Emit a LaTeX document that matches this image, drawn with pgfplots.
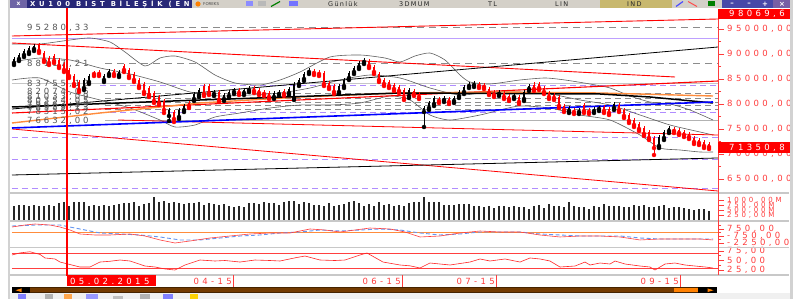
\documentclass[border=0pt]{standalone}
\usepackage{pgfplots}
\pgfplotsset{compat=1.18}
\usepackage{pgfplotstable}
\usepackage{fontspec}
\setmainfont{DejaVu Sans}
\newfontfamily\axff[LetterSpace=40]{DejaVu Sans}
\newfontfamily\lvff[LetterSpace=35]{DejaVu Sans}
\newfontfamily\ttlff[LetterSpace=55]{DejaVu Sans}
\newfontfamily\tbff[LetterSpace=20]{DejaVu Sans}
\newcommand\af{\axff\fontsize{8.5}{8.5}\selectfont}
\newcommand\vf{\axff\fontsize{7}{7}\selectfont}
\newcommand\lf{\lvff\fontsize{8.5}{8.5}\selectfont}
\newcommand\tbf{\tbff\fontsize{6.5}{6.5}\selectfont}
\definecolor{cred}{RGB}{255,0,0}
\definecolor{lred}{RGB}{255,60,60}
\definecolor{gdash}{RGB}{140,140,140}
\definecolor{pdash}{RGB}{176,140,255}
\definecolor{psol}{RGB}{190,160,255}
\definecolor{bband}{RGB}{95,95,95}
\definecolor{orng}{RGB}{255,140,60}
\definecolor{navy}{RGB}{40,40,120}
\definecolor{xbox}{RGB}{110,100,165}
\definecolor{xbtn}{RGB}{120,95,165}
\definecolor{tbgrey}{RGB}{212,208,200}
\definecolor{khaki}{RGB}{200,184,110}
\definecolor{btnblue}{RGB}{72,72,168}
\definecolor{brwn}{RGB}{115,58,0}
\definecolor{sigblue}{RGB}{100,150,240}
\definecolor{sep}{RGB}{200,200,200}
\definecolor{lvgrey}{RGB}{85,85,85}

\pgfplotstableread{
x o h l c
14 88200 89400 87800 89000
19 89000 90200 88600 89800
24 89800 91000 89400 90600
29 90400 91600 90000 91200
34 91000 92000 90600 91600
84 83200 85200 82800 84800
89 84400 86000 84000 85600
104 84800 86000 84400 85600
109 86000 87000 85600 86600
119 85800 86800 85400 86400
169 77600 79200 76600 78800
179 77400 79200 77000 78800
184 78800 80000 78400 79600
194 81000 82400 80600 82000
199 81800 83200 81400 82800
214 82000 82800 81600 82400
224 81000 82200 80600 81800
229 81600 82800 81200 82400
234 82400 83200 82000 82800
244 82200 83200 81800 82800
249 82800 83600 82400 83200
274 81400 82600 81000 82200
279 82000 82800 81600 82400
289 82200 83400 81800 83000
294 81200 84400 80800 84000
299 84000 85200 83600 84800
304 85000 86400 84600 86000
309 86400 87200 86000 86800
339 82400 84000 82000 83600
344 83600 85200 83200 84800
349 85200 86600 84800 86200
354 86400 87600 86000 87200
359 87400 88600 87000 88200
364 88400 89200 88000 88800
409 81600 83200 81200 82800
424 78400 79600 75400 79200
429 79200 80600 78800 80200
434 80000 81600 79600 81200
444 80800 81600 80400 81200
454 80600 81600 80200 81200
459 81600 82800 81200 82400
464 82400 83800 82000 83400
469 83600 84400 83200 84000
474 83800 84600 83400 84200
499 82000 82800 81600 82400
514 81400 82200 81000 81800
524 81000 82800 80600 82400
529 83000 84000 82600 83600
569 78600 79600 78200 79200
579 78400 79200 78000 78800
594 78600 79400 78200 79000
599 79000 79600 78600 79200
614 79200 80400 78800 80000
659 71600 73800 71200 73400
664 73200 74800 72800 74400
669 74600 75600 74200 75200
}\upc

\pgfplotstableread{
x o h l c
39 91800 92200 90200 90600
44 90200 90600 88400 88800
49 89200 89600 87800 88200
54 89600 90000 88200 88600
59 88800 89200 87200 87600
64 88000 88400 86400 86800
69 86800 87200 85200 85600
74 85600 86000 83600 84000
79 84400 84800 82400 82800
94 86200 86600 85600 86000
99 86400 86800 85600 86000
114 86600 87000 85600 86000
124 87600 88000 86400 86800
129 86800 87200 85200 85600
134 86000 86400 84400 84800
139 84800 85200 83200 83600
144 84000 84400 82000 82400
149 83200 83600 81400 81800
154 82200 82600 80200 80600
159 81400 81800 79800 80200
164 80600 81000 78200 78800
174 78400 78800 76400 77000
189 80200 80600 79200 79600
204 83600 84000 81600 82000
209 83600 84000 81800 82200
219 82400 82800 80400 80800
239 82800 83200 81800 82200
254 83200 83600 82200 82600
259 82800 83200 81800 82200
264 82400 82800 81600 82000
269 82200 82600 81000 81400
284 82600 83000 81600 82000
314 86600 87000 85800 86200
319 86400 86800 85600 86000
324 86200 86600 83600 84000
329 84200 84600 83000 83400
334 83600 84000 82000 82400
369 88600 89000 87200 87600
374 87400 87800 86000 86400
379 86000 86400 84400 84800
384 84800 85200 83600 84000
389 84400 84800 83200 83600
394 83800 84200 82600 83000
399 83400 83800 82200 82600
404 82800 83200 80800 81200
414 82600 83000 81600 82000
419 82000 82400 81000 81400
439 81000 81400 80200 80600
449 81000 81400 80000 80400
479 84000 84400 83200 83600
484 83800 84200 83000 83400
489 83000 83400 81800 82200
494 82400 82800 81400 81800
504 82200 82600 81000 81400
509 81600 82000 80600 81000
519 81400 81800 80000 80400
534 83800 84400 82600 83000
539 84000 84400 82800 83200
544 83200 83600 82000 82400
549 82200 82600 81000 81400
554 81800 82200 80800 81200
559 81400 81800 79200 79600
564 79600 80000 78400 78800
574 78800 79200 78000 78400
584 79800 80200 78200 78600
589 78800 79200 78000 78400
604 79400 79800 78200 78600
609 79000 79400 77800 78200
619 79800 80200 78400 78800
624 78800 79200 77200 77600
629 77800 78200 76200 76600
634 76800 77200 75400 75800
639 76000 76400 74600 75000
644 75200 75600 73600 74000
649 74400 74800 72800 73200
654 73200 73600 69800 71200
674 75000 75400 74200 74600
679 74800 75200 73800 74200
684 74400 74800 73400 73800
689 74000 74400 73000 73400
694 73200 73600 72000 72400
699 72800 73200 71800 72200
704 72400 72800 71200 71600
709 72000 72400 71000 71400
}\dnc

\pgfplotstableread{
x v
14 700
19 780
24 780
29 690
34 760
39 720
44 690
49 760
54 690
59 850
64 900
69 700
74 880
79 900
84 920
89 700
94 760
99 720
104 760
109 690
114 760
119 800
124 830
129 870
134 900
139 700
144 800
149 870
154 1150
159 900
164 950
169 870
174 900
179 850
184 800
189 850
194 830
199 880
204 760
209 860
214 800
219 780
224 800
229 700
234 640
239 700
244 650
249 830
254 860
259 800
264 900
269 850
274 830
279 760
284 900
289 930
294 950
299 800
304 900
309 830
314 760
319 780
324 700
329 850
334 700
339 780
344 820
349 880
354 950
359 870
364 720
369 820
374 700
379 880
384 760
389 800
394 700
399 780
404 700
409 830
414 900
419 880
424 1150
429 920
434 880
439 880
444 760
449 780
454 760
459 800
464 820
469 820
474 720
479 720
484 680
489 720
494 620
499 720
504 720
509 650
514 720
519 680
524 650
529 580
534 720
539 760
544 620
549 820
554 700
559 700
564 640
569 880
574 720
579 680
584 640
589 560
594 720
599 640
604 820
609 720
614 700
619 720
624 680
629 640
634 760
639 700
644 740
649 680
654 640
659 700
664 740
669 600
674 680
679 640
684 600
689 560
694 520
699 560
704 580
709 480
}\vol

\pgfplotstableread{
x m
12 1180
25 1600
35 1820
50 1600
60 1180
70 535
80 -320
95 -535
110 -535
130 -320
145 -750
160 -1600
175 -2250
190 -1820
210 -1180
230 -750
250 -320
270 -107
290 -107
310 750
325 535
340 107
355 535
370 960
390 750
405 107
420 -960
440 -750
460 -107
480 320
500 107
520 107
540 -535
560 -960
580 -750
600 -750
620 -960
640 -1600
660 -1390
680 -1390
700 -1390
713 -1600
}\macd

\pgfplotstableread{
x s
12 1390
35 1600
60 1600
80 750
100 -107
120 -320
140 -535
160 -960
180 -1600
200 -1600
220 -1180
240 -750
260 -535
280 -107
300 107
320 535
340 320
360 535
380 750
400 535
420 -107
440 -535
460 -320
480 107
500 107
520 107
540 -320
560 -535
580 -750
600 -750
620 -750
640 -1180
660 -1390
680 -1390
700 -1390
713 -1390
}\sig

\pgfplotstableread{
x r
12 64.5
20 70
30 73
40 66
45 56.6
55 54
60 46
68 40.8
80 32.9
90 32.9
100 46
110 48
120 51.3
130 48.7
145 35.5
155 33
165 27.7
175 25
185 38.2
200 51.3
215 48.7
225 50
240 46
255 51.3
270 50
280 48.7
295 57
305 61.8
320 51.3
335 50
345 51.3
360 64.5
367 69.7
383 46
400 38.2
410 36
420 30.3
430 43.4
450 38.2
470 46
480 54
490 48.7
505 54
520 46
530 56.6
540 54
550 48.7
560 32.9
575 35.5
585 46
590 38.2
600 43.4
610 40.8
615 48.7
625 40.8
640 35.5
650 32.9
655 25
665 40.8
675 43.4
685 38.2
695 35.5
705 33
713 30.3
}\rsi

\pgfplotsset{panel/.style={anchor=south west, scale only axis, width=706pt,
  xmin=12, xmax=718, axis x line=none, axis y line*=right,
  y axis line style={lred, line width=0.9pt, -},
  tick align=outside, major tick length=6pt, minor tick length=3pt,
  every tick/.style={lred, line width=0.7pt},
  yticklabel style={font=\af, text=lred, anchor=west, inner sep=0pt, xshift=3pt},
  scaled y ticks=false, clip=true},
  wick/.style={only marks, mark=none, error bars/.cd, y dir=plus, y explicit, error mark=none,
    error bar style={line width=0.8pt, #1}},
  body/.style={only marks, mark=none, error bars/.cd, y dir=plus, y explicit, error mark=none,
    error bar style={line width=2.1pt, #1}}}

\begin{document}
\begin{tikzpicture}[x=1pt,y=1pt]
\useasboundingbox (0,0) rectangle (804,299);
\fill[white] (0,0) rectangle (804,299);

% ---------------- main price panel
\begin{axis}[panel, at={(12pt,107pt)}, height=183pt, ymin=62400, ymax=99000,
  ytick={65000,70000,75000,80000,85000,90000,95000},
  yticklabels={{65000,00},{70000,00},{75000,00},{80000,00},{85000,00},{90000,00},{95000,00}},
  minor ytick={67500,72500,77500,82500,87500,92500,97500}]
% level lines
\addplot[psol, line width=0.9pt] coordinates {(12,93100) (718,93100)};
\addplot[gray!45, line width=0.6pt] coordinates {(12,84200) (718,84200)};
\addplot[gdash, line width=0.9pt, dash pattern=on 7pt off 5pt] coordinates {(105,95280.33) (718,95280.33)};
\addplot[gdash, line width=0.9pt, dash pattern=on 7pt off 5pt] coordinates {(105,88117.21) (718,88117.21)};
\addplot[gdash, line width=0.8pt, dash pattern=on 6pt off 4pt] coordinates {(105,82074.06) (718,82074.06)};
\addplot[gdash, line width=0.8pt, dash pattern=on 6pt off 4pt] coordinates {(105,81033.09) (718,81033.09)};
\addplot[gdash, line width=0.8pt, dash pattern=on 6pt off 4pt] coordinates {(105,80354.05) (718,80354.05)};
\addplot[gdash, line width=0.8pt, dash pattern=on 6pt off 4pt] coordinates {(105,79663.39) (718,79663.39)};
\addplot[gdash, line width=0.8pt, dash pattern=on 6pt off 4pt] coordinates {(105,78989.13) (718,78989.13)};
\addplot[gray!60, line width=0.8pt] coordinates {(105,76632) (718,76632)};
\addplot[pdash, line width=0.9pt, dash pattern=on 6pt off 4pt] coordinates {(100,83755.12) (718,83755.12)};
\addplot[pdash, line width=0.9pt, dash pattern=on 6pt off 4pt] coordinates {(100,78315.02) (718,78315.02)};
\addplot[pdash, line width=0.9pt, dash pattern=on 6pt off 4pt] coordinates {(12,73400) (718,73400)};
\addplot[pdash, line width=0.9pt, dash pattern=on 6pt off 4pt] coordinates {(12,69000) (718,69000)};
\addplot[pdash, line width=0.9pt, dash pattern=on 6pt off 4pt] coordinates {(12,63200) (718,63200)};
% Bollinger bands
\addplot[bband, line width=0.6pt, smooth, tension=0.4] coordinates {(12,92000) (40,92000) (70,92800) (90,93200) (110,92400) (125,90400) (145,87600) (160,89200) (175,89600) (195,88400) (215,85800) (235,84200) (260,83800) (280,84800) (300,86400) (330,89400) (360,89800) (385,89200) (400,88400) (415,89600) (430,90200) (445,88800) (460,85800) (470,84400) (490,84000) (520,84800) (545,85200) (565,84800) (590,84000) (610,83200) (630,81600) (650,80400) (670,80000) (690,78800) (713,76800)};
\addplot[bband, line width=0.6pt, smooth, tension=0.4] coordinates {(12,88400) (40,89200) (70,88800) (100,87200) (130,86000) (160,84400) (190,82400) (220,81600) (250,81800) (280,82200) (310,83200) (340,84800) (370,85800) (400,85200) (430,83200) (460,81800) (490,82400) (520,82400) (550,82000) (580,80800) (610,79800) (640,77800) (670,75800) (700,74400) (713,73800)};
\addplot[bband, line width=0.6pt, smooth, tension=0.4] coordinates {(12,84800) (40,85200) (70,82400) (100,80800) (130,79200) (160,76800) (175,75400) (195,75800) (215,77400) (240,78200) (270,79200) (300,79800) (330,79800) (360,80200) (390,81600) (410,80800) (430,77800) (450,76800) (480,77800) (500,78800) (520,79600) (550,79200) (580,77800) (610,76800) (640,73800) (660,71200) (680,70800) (700,70400) (713,70400)};
% trend lines
\addplot[cred, line width=0.9pt] coordinates {(12,93600) (718,97000)};
\addplot[cred, line width=0.9pt] coordinates {(12,92200) (675,85400)};
\addplot[black, line width=0.8pt] coordinates {(12,79000) (718,91400)};
\addplot[cred, line width=1.1pt] coordinates {(12,78200) (718,84600)};
\addplot[cred, line width=0.8pt] coordinates {(118,76800) (718,73800)};
\addplot[cred, line width=0.8pt] coordinates {(12,75000) (718,62600)};
\addplot[black, line width=0.8pt] coordinates {(12,65800) (718,69200)};
\addplot[orng, line width=1.4pt] coordinates {(12,76200) (100,78200) (200,80200) (300,81400) (400,82200) (500,82400) (600,82200) (713,81600)};
\addplot[black, line width=1.5pt] coordinates {(12,79400) (200,80800) (400,82200) (600,82000) (650,81400) (713,80200)};
\addplot[blue, line width=1.6pt] coordinates {(12,75200) (713,80400)};
% level labels
\node[anchor=west, inner sep=0pt, font=\lf, text=lvgrey] at (axis cs:27,95280.33) {95280,33};
\node[anchor=west, inner sep=0pt, font=\lf, text=lvgrey] at (axis cs:27,88117.21) {88117,21};
\node[anchor=west, inner sep=0pt, font=\lf, text=lvgrey] at (axis cs:27,84000) {83755,12};
\node[anchor=west, inner sep=0pt, font=\lf, text=lvgrey] at (axis cs:27,82400) {82074,06};
\node[anchor=west, inner sep=0pt, font=\lf, text=lvgrey] at (axis cs:27,81400) {81033,09};
\node[anchor=west, inner sep=0pt, font=\lf, text=lvgrey] at (axis cs:27,80600) {80354,05};
\node[anchor=west, inner sep=0pt, font=\lf, text=lvgrey] at (axis cs:27,79800) {79663,39};
\node[anchor=west, inner sep=0pt, font=\lf, text=lvgrey] at (axis cs:27,79200) {78989,13};
\node[anchor=west, inner sep=0pt, font=\lf, text=lvgrey] at (axis cs:27,78400) {78315,02};
\node[anchor=west, inner sep=0pt, font=\lf, text=lvgrey] at (axis cs:27,76600) {76632,00};
% candles
\addplot[black, wick=black] table[x=x, y=l, y error plus expr={\thisrow{h}-\thisrow{l}}] \upc;
\addplot[black, body=black] table[x=x, y=o, y error plus expr={\thisrow{c}-\thisrow{o}}] \upc;
\addplot[cred, wick=cred] table[x=x, y=l, y error plus expr={\thisrow{h}-\thisrow{l}}] \dnc;
\addplot[cred, body=cred] table[x=x, y=c, y error plus expr={\thisrow{o}-\thisrow{c}}] \dnc;
\end{axis}

% ---------------- volume panel
\begin{axis}[panel, at={(12pt,78.5pt)}, height=24.5pt, ymin=0, ymax=1195,
  ytick={250,500,750,1000}, yticklabels={{250,00M},{500,00M},{750,00M},{1000,00M}},
  yticklabel style={font=\vf}]
\addplot[ycomb, line width=2.2pt, black!85] table[x=x, y=v] \vol;
\end{axis}

% ---------------- MACD panel
\begin{axis}[panel, at={(12pt,52pt)}, height=25pt, ymin=-3107, ymax=2250,
  ytick={-2250,-750,750}, yticklabels={{-2250,00},{-750,00},{750,00}},
  minor ytick={-1500,0,1500}]
\addplot[orng, line width=0.7pt] coordinates {(12,0) (718,0)};
\addplot[sigblue, line width=0.9pt, dash pattern=on 4pt off 2.5pt] table[x=x, y=s] \sig;
\addplot[cred!75, line width=0.6pt] table[x=x, y=m] \macd;
\end{axis}

% ---------------- RSI panel
\begin{axis}[panel, at={(12pt,24pt)}, height=27pt, ymin=11.9, ymax=82.9,
  ytick={25,50,75}, yticklabels={{25,00},{50,00},{75,00}}, minor ytick={37.5,62.5}]
\addplot[cred!75, line width=0.5pt] coordinates {(12,70) (718,70)};
\addplot[cred!75, line width=0.5pt] coordinates {(12,30) (718,30)};
\addplot[cred!85, line width=0.6pt] table[x=x, y=r] \rsi;
\end{axis}

% ---------------- frame decorations
\draw[sep, line width=1.2pt] (10,106) -- (789,106);
\draw[sep, line width=1.2pt] (10,78) -- (789,78);
\draw[sep, line width=1.2pt] (10,51.5) -- (789,51.5);
\draw[sep, line width=1.2pt] (10,24) -- (789,24);
\draw[lred, line width=0.9pt] (718,24) -- (718,290);
\draw[cred, line width=1.2pt] (67,23) -- (67,291);

% date bar
\fill[cred] (67,13) rectangle (156,23.5);
\node[anchor=west, inner sep=0pt, text=white, font=\af] at (70,18) {05.02.2015};
\node[anchor=east, inner sep=0pt, text=lred, font=\af] at (232,18) {04-15};
\node[anchor=east, inner sep=0pt, text=lred, font=\af] at (401,18) {06-15};
\node[anchor=east, inner sep=0pt, text=lred, font=\af] at (495,18) {07-15};
\node[anchor=east, inner sep=0pt, text=lred, font=\af] at (679,18) {09-15};
\foreach \xx in {233,402,496,680} \draw[lred, line width=0.6pt] (\xx,12) -- (\xx,24);

% scrollbar
\fill[brwn] (12,6) rectangle (717,11.5);
\fill[brwn!60!black] (12,10.5) rectangle (717,11.5);
\fill[brwn!60!black] (12,6) rectangle (717,6.8);
\fill[black] (12,6) rectangle (30,11.5);
\fill[orange] (15.5,8.75) -- (21.5,10.6) -- (21.5,6.9) -- cycle;
\fill[orange] (674,6.8) rectangle (698,10.6);
\fill[black] (698,6) rectangle (717,11.5);
\fill[orange] (713.5,8.75) -- (707.5,10.6) -- (707.5,6.9) -- cycle;

% bottom toolbar
\fill[gray!12] (10,0) rectangle (790,5.5);
\fill[blue!50] (18,0) rectangle (26,4.5);
\fill[gray!60] (45,0) rectangle (53,4.5);
\fill[orange!70] (64,0) rectangle (72,4.5);
\fill[blue!40] (86,0) rectangle (98,4.5);
\fill[gray!50] (113,0) rectangle (123,3);
\fill[gray!60] (140,0) rectangle (150,4.5);
\fill[blue!50] (163,0) rectangle (173,4.5);
\fill[yellow!70!orange] (190,0) rectangle (198,4.5);

% left border and right mask
\fill[gray!35] (7.5,0) rectangle (10,299);
\fill[white] (789.5,0) rectangle (804,299);
\fill[gray!35] (790,0) rectangle (792.5,299);

% price boxes on right axis
\fill[cred] (718,280) rectangle (789.5,290);
\begin{scope}
\clip (718,280) rectangle (789.5,290);
\node[anchor=west, inner sep=0pt, text=white, font=\af] at (729,285) {98069,6};
\end{scope}
\fill[cred] (718,146) rectangle (789.5,157);
\node[anchor=west, inner sep=0pt, text=white, font=\af] at (729,151.5) {71350,8};

% title bar
\fill[tbgrey] (10,291) rectangle (790,299);
\fill[navy] (10,291) rectangle (192,299);
\fill[xbox] (10,291) rectangle (27,299);
\node[text=white, font=\bfseries\fontsize{6}{6}\selectfont, inner sep=0pt] at (18.5,295) {x};
\node[anchor=west, inner sep=0pt, text=white, font=\ttlff\bfseries\fontsize{6.8}{6.8}\selectfont] at (30,295) {XU100 BIST BİLEŞİK (EN};
\fill[orange] (198,295) circle (2.6);
\node[anchor=west, inner sep=0pt, text=gray!60!black, font=\fontsize{4}{4}\selectfont] at (203,295) {FOREKS};
\fill[blue!45] (246,292.5) rectangle (253,297.5);
\fill[gray!55] (258,292.5) rectangle (266,297.5);
\draw[green!50!black, line width=1.2pt] (271,292.5) -- (280,297.5);
\fill[blue!55] (289,292.5) rectangle (298,297.5);
\node[anchor=west, inner sep=0pt, text=gray!30!black, font=\tbf] at (328,295) {Günlük};
\node[anchor=west, inner sep=0pt, text=gray!30!black, font=\tbf] at (399,295) {3DMUM};
\node[anchor=west, inner sep=0pt, text=gray!30!black, font=\tbf] at (488,295) {TL};
\node[anchor=west, inner sep=0pt, text=gray!30!black, font=\tbf] at (555,295) {LIN};
\fill[khaki] (600,291) rectangle (672,299);
\node[anchor=west, inner sep=0pt, text=gray!30!black, font=\tbf] at (627,295) {IND};
\draw[blue!70, line width=1.2pt] (676,292.5) -- (683,297.5);
\draw[red!70, line width=1pt] (688,297.5) -- (697,292.5);
\fill[green!50!black] (708,292.5) rectangle (715,297.5);
\fill[btnblue] (722,291) rectangle (790,299);
\fill[xbtn] (773,291) rectangle (790,299);
\node[text=white, font=\bfseries\fontsize{7}{7}\selectfont, inner sep=0pt] at (732,295) {–};
\node[text=white, font=\bfseries\fontsize{7}{7}\selectfont, inner sep=0pt] at (749,295) {–};
\node[text=white, font=\bfseries\fontsize{7}{7}\selectfont, inner sep=0pt] at (765,295) {+};
\node[text=white, font=\bfseries\fontsize{7}{7}\selectfont, inner sep=0pt] at (782,295) {×};
\end{tikzpicture}
\end{document}
